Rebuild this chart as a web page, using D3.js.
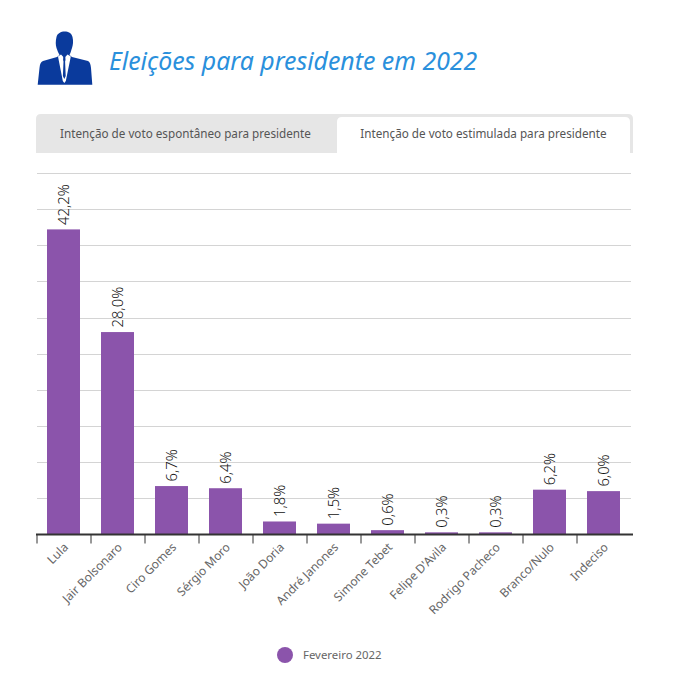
<!DOCTYPE html>
<html><head><meta charset="utf-8">
<script src="https://cdn.jsdelivr.net/npm/d3@7"></script>
<style>html,body{margin:0;padding:0;background:#fff}svg{display:block}text{font-family:"Noto Sans",sans-serif}</style>
</head><body><svg id="c" width="679" height="682"></svg>
<script>
const categories=["Lula","Jair Bolsonaro","Ciro Gomes","Sérgio Moro","João Doria","André Janones","Simone Tebet","Felipe D'Avila","Rodrigo Pacheco","Branco/Nulo","Indeciso"];
const values=[42.2,28.0,6.7,6.4,1.8,1.5,0.6,0.3,0.3,6.2,6.0];
const yTicks=[0,5,10,15,20,25,30,35,40,45,50];
const seriesName="Fevereiro 2022";
const titleText="Eleições para presidente em 2022";
const tabLabels=["Intenção de voto espontâneo para presidente","Intenção de voto estimulada para presidente"];
const svg=d3.select("#c");
const x=d3.scaleBand().domain(categories).range([37,631]).paddingInner(0.389).paddingOuter(0.1945);
const y=d3.scaleLinear().domain([0,50]).range([534.5,173]);
const fmt=v=>v.toFixed(1).replace(".",",")+"%";
// icon
const icon=svg.append("g").attr("fill","#0a3a9c");
icon.append("path").attr("d","M56.500 37 C58 30 71 29.500 72.500 37 C73.500 41 73 45 72 48 C71 51 70.500 53 69.500 55 L72 57 L88 61 C90 62 90.500 64 91 68 L92.300 84.700 L37.700 84.700 L39.500 68 C40 64 40.500 62 43 61 L57 57 L59.500 55 C58.500 53 57.500 51 56.500 48 C55.500 45 55.500 41 56.500 37 Z");
icon.append("path").attr("fill","#fff").attr("d","M58 56.500 L61 54.500 L64.300 58 L67.500 54.500 L70.800 56.500 L65.800 81 L64.300 83 L62.800 81 Z");
icon.append("path").attr("d","M63.300 56.500 L65.300 56.500 L65.500 60 L65.100 61.500 L65.700 76 L64.300 79 L62.900 76 L63.500 61.500 L63.100 60 Z");
// title
svg.append("text").attr("x",109).attr("y",70).attr("font-size",24.85).attr("font-style","italic").attr("fill","#2a90dc").text(titleText);
// tabs
svg.append("path").attr("d","M36 153 V119 Q36 114 41 114 H628 Q633 114 633 119 V153 Z").attr("fill","#e6e6e6");
svg.append("path").attr("d","M337 153 V122 Q337 117 342 117 H625 Q630 117 630 122 V153 Z").attr("fill","#fff");
svg.append("text").attr("x",185.500).attr("y",138).attr("text-anchor","middle").attr("font-size",11.7).attr("fill","#555").text(tabLabels[0]);
svg.append("text").attr("x",483.500).attr("y",138).attr("text-anchor","middle").attr("font-size",11.7).attr("fill","#555").text(tabLabels[1]);
// grid
svg.append("g").selectAll("line").data(yTicks.slice(1)).join("line")
 .attr("x1",37).attr("x2",631).attr("y1",d=>Math.round(y(d))+.5).attr("y2",d=>Math.round(y(d))+.5).attr("stroke","#d4d4d4");
// bars
svg.append("g").selectAll("rect").data(values).join("rect")
 .attr("x",(d,i)=>x(categories[i])-.5).attr("width",x.bandwidth()).attr("y",d=>y(d)).attr("height",d=>y(0)-y(d)).attr("fill","#8b54ab");
// axis
const ax=svg.append("g").attr("transform","translate(0,534.500)").call(d3.axisBottom(x).tickSize(9).tickFormat(""));
ax.select(".domain").attr("stroke","#333").attr("stroke-width",2).attr("d","M36 0H633");
ax.selectAll(".tick line").attr("stroke","#333").attr("transform",`translate(${-x.step()/2},0)`);
svg.append("g").selectAll("text").data(categories).join("text")
 .attr("transform",d=>`translate(${x(d)+x.bandwidth()/2+5},${548}) rotate(-45)`)
 .attr("text-anchor","end").attr("font-size",12).attr("fill","#666").text(d=>d);
// value labels
svg.append("g").selectAll("text").data(values).join("text")
 .attr("transform",(d,i)=>`translate(${x(categories[i])+x.bandwidth()/2+4.500},${y(d)-4.500}) rotate(-90)`)
 .attr("font-size",14.8).attr("font-weight",300).attr("fill","#111").text(fmt);
// legend
svg.append("circle").attr("cx",285).attr("cy",655).attr("r",8).attr("fill","#8b54ab");
svg.append("text").attr("x",303).attr("y",659).attr("font-size",11.4).attr("fill","#666").text(seriesName);
</script></body></html>
